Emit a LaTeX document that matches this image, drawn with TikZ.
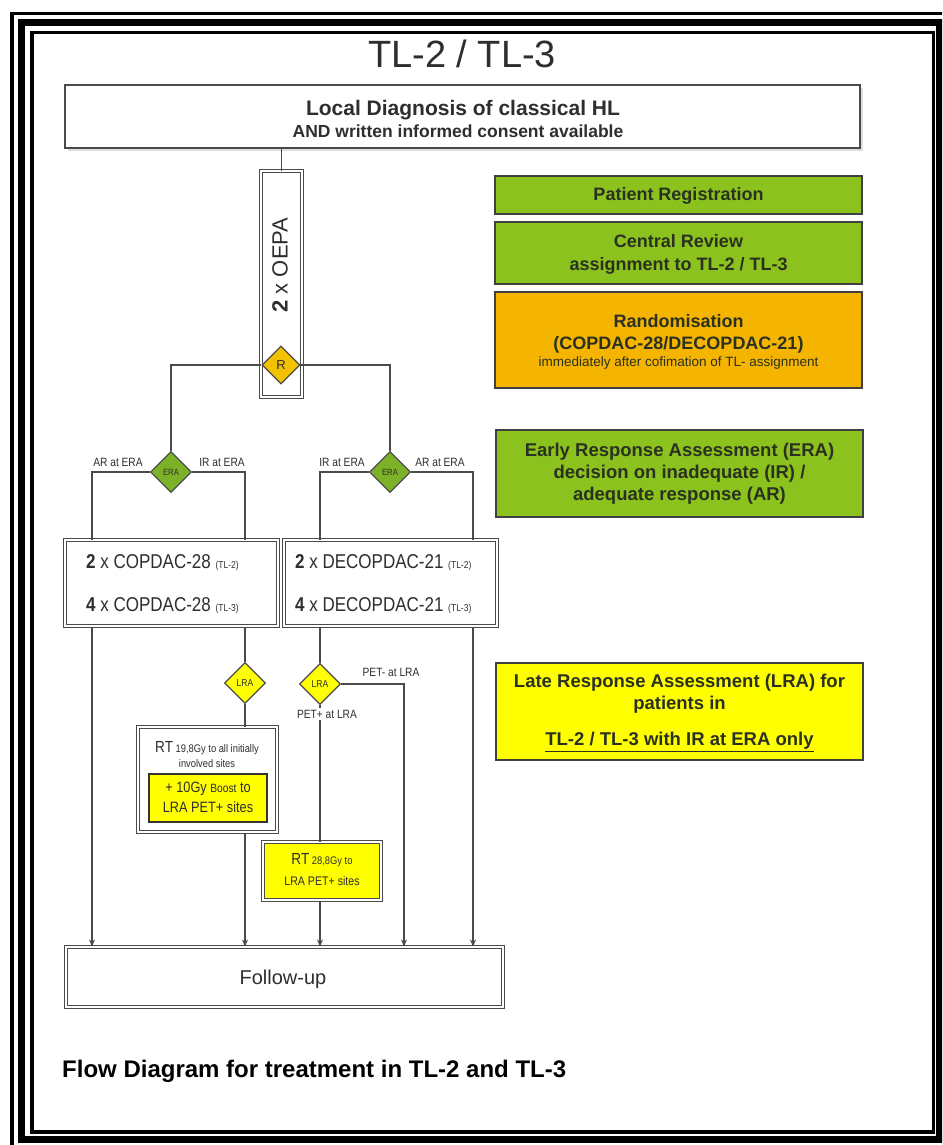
\documentclass[tikz,border=0pt]{standalone}
\usepackage{fontspec}
\setmainfont{Liberation Sans}
\newfontfamily\narrowfont[FakeStretch=0.85]{Liberation Sans}
\usetikzlibrary{shapes.geometric,arrows.meta,shadows}
\definecolor{lgreen}{HTML}{8CC21E}
\definecolor{dgreen}{HTML}{7DB228}
\definecolor{orng}{HTML}{F5B400}
\definecolor{gold}{HTML}{F2C200}
\definecolor{yel}{HTML}{FFFF00}
\definecolor{txt}{HTML}{2E2E2E}
\definecolor{edge}{HTML}{4A4A4A}
\definecolor{gtxt}{HTML}{2A3120}
\newcommand{\fsz}[1]{\fontsize{#1}{#1}\selectfont}
\begin{document}
\begin{tikzpicture}[x=1pt,y=-1pt,
  line/.style={draw=edge, line width=1.3pt},
  arr/.style={line, -{Stealth[length=7pt,width=6pt]}},
  dbox/.style={draw=edge, line width=1pt, double=white, double distance=2.2pt, fill=white, inner sep=0pt},
  cbox/.style={draw=black!75, line width=1.5pt, inner sep=0pt},
  ctext/.style={text=gtxt, font=\bfseries\fsz{18}, inner sep=0pt},
  dia/.style={diamond, draw=black!70, line width=1.2pt, minimum width=41pt, minimum height=41pt, inner sep=0pt, text=txt},
  lbl/.style={text=txt, font=\narrowfont\fsz{12}, inner sep=0pt},
  tx/.style={text=txt, inner sep=0pt}]
\useasboundingbox (0,0) rectangle (942,1145);
\clip (0,0) rectangle (942,1145);
\fill[white] (0,0) rectangle (942,1145);
% frame
\draw[line width=3.5pt] (12,13.5) rectangle (960,1160);
\draw[line width=7pt] (21.5,22.5) rectangle (939.5,1139.5);
\draw[line width=3.5pt] (32,32.5) rectangle (933.5,1132);
% title
\node[tx, font=\fsz{38}] (title) at (462,54) {TL-2 / TL-3};
% top box
\node[draw=edge, line width=1.5pt, fill=white, minimum width=795pt, minimum height=63pt,
  drop shadow={shadow xshift=3pt, shadow yshift=-3pt, opacity=0.25}] (diag) at (462.5,116.5) {};
\node[tx, font=\bfseries\fsz{21}] (diagA) at (463,110) {Local Diagnosis of classical HL};
\node[tx, font=\bfseries\fsz{17.5}] (diagB) at (458,131) {AND written informed consent available};
% OEPA
\node[dbox, minimum width=41pt, minimum height=226pt] (oepa) at (281.5,284) {};
\node[tx, rotate=90, font=\fsz{22}] (oepatxt) at (280,265) {\textbf{2} x OEPA};
\draw[line] (diag.south -| oepa) -- (oepa.north);
\node[dia, fill=gold, minimum width=38pt, minimum height=38pt, font=\fsz{13}] (R) at (281,365) {R};
% ERA diamonds
\node[dia, fill=dgreen, font=\narrowfont\fsz{9}] (eraL) at (171,472) {ERA};
\node[dia, fill=dgreen, font=\narrowfont\fsz{9}] (eraR) at (390,472) {ERA};
\draw[line] (R.west) -| (eraL.north);
\draw[line] (R.east) -| (eraR.north);
% coordinates of branches
\coordinate (xa) at (92,0);
\coordinate (xb) at (245,0);
\coordinate (xc) at (320,0);
\coordinate (xd) at (404,0);
\coordinate (xe) at (473,0);
% chemo boxes
\node[dbox, minimum width=213pt, minimum height=86pt] (copdac) at (171.5,583) {};
\node[dbox, minimum width=213pt, minimum height=86pt] (decopdac) at (390.5,583) {};
\node[tx, anchor=west, font=\narrowfont\fsz{20}] (c1) at (86,563) {\textbf{2} x COPDAC-28 {\fsz{10}(TL-2)}};
\node[tx, anchor=west, font=\narrowfont\fsz{20}] (c2) at (86,606) {\textbf{4} x COPDAC-28 {\fsz{10}(TL-3)}};
\node[tx, anchor=west, font=\narrowfont\fsz{20}] (d1) at (295,563) {\textbf{2} x DECOPDAC-21 {\fsz{10}(TL-2)}};
\node[tx, anchor=west, font=\narrowfont\fsz{20}] (d2) at (295,606) {\textbf{4} x DECOPDAC-21 {\fsz{10}(TL-3)}};
\draw[line] (eraL.west) -| (copdac.north -| xa);
\draw[line] (eraL.east) -| (copdac.north -| xb);
\draw[line] (eraR.west) -| (decopdac.north -| xc);
\draw[line] (eraR.east) -| (decopdac.north -| xe);
\node[lbl] (l1) at (118,462) {AR at ERA};
\node[lbl] (l2) at (222,462) {IR at ERA};
\node[lbl] (l3) at (342,462) {IR at ERA};
\node[lbl] (l4) at (440,462) {AR at ERA};
% follow-up
\node[dbox, minimum width=437pt, minimum height=60pt] (follow) at (284.5,977) {};
\node[tx, font=\fsz{20}] (followtxt) at (283,979) {Follow-up};
% LRA diamonds
\node[dia, fill=yel, font=\narrowfont\fsz{10}] (lraL) at (245,683) {LRA};
\node[dia, fill=yel, font=\narrowfont\fsz{10}] (lraR) at (320,684) {LRA};
% RT boxes
\node[dbox, minimum width=139pt, minimum height=105pt] (rt1) at (207.5,779.5) {};
\node[tx, font=\narrowfont\fsz{11}] (rt1a) at (207,748) {{\fsz{16}RT} 19,8Gy to all initially};
\node[tx, font=\narrowfont\fsz{11}] (rt1b) at (207,764) {involved sites};
\node[draw=black!80, line width=1.5pt, fill=yel, minimum width=118pt, minimum height=48pt] (boost) at (208,798) {};
\node[tx, font=\narrowfont\fsz{15}] (boosta) at (208,789) {+ 10Gy {\fsz{12}Boost} to};
\node[tx, font=\narrowfont\fsz{15}] (boostb) at (208,807) {LRA PET+ sites};
\node[dbox, fill=yel, minimum width=118pt, minimum height=58pt] (rt2) at (322,871) {};
\node[tx, font=\narrowfont\fsz{11}] (rt2a) at (322,860) {{\fsz{16}RT} 28,8Gy to};
\node[tx, font=\narrowfont\fsz{12.5}] (rt2b) at (322,881) {LRA PET+ sites};
% connectors lower
\draw[arr] (copdac.south -| xa) -- (follow.north -| xa);
\draw[line] (copdac.south -| xb) -- (lraL.north);
\draw[line] (lraL.south) -- (rt1.north -| xb);
\draw[arr] (rt1.south -| xb) -- (follow.north -| xb);
\draw[line] (decopdac.south -| xc) -- (lraR.north);
\draw[line] (lraR.south) -- (rt2.north -| xc);
\draw[arr] (rt2.south -| xc) -- (follow.north -| xc);
\draw[arr] (lraR.east) -| (follow.north -| xd);
\draw[arr] (decopdac.south -| xe) -- (follow.north -| xe);
\node[lbl] (pm) at (391,672) {PET- at LRA};
\node[lbl, fill=white, inner sep=2pt] (pp) at (327,714) {PET+ at LRA};
% right column
\node[cbox, fill=lgreen, minimum width=367pt, minimum height=38pt] (reg) at (678.5,195) {};
\node[ctext] (regt) at (678.5,196) {Patient Registration};
\node[cbox, fill=lgreen, minimum width=367pt, minimum height=62pt] (rev) at (678.5,253) {};
\node[ctext] (reva) at (678.5,241) {Central Review};
\node[ctext] (revb) at (678.5,266) {assignment to TL-2 / TL-3};
\node[cbox, fill=orng, minimum width=367pt, minimum height=96pt] (rand) at (678.5,340) {};
\node[ctext] (randa) at (678.5,321) {Randomisation};
\node[ctext] (randb) at (678.5,345) {(COPDAC-28/DECOPDAC-21)};
\node[tx, text=gtxt, font=\fsz{13.5}] (randc) at (678.5,363) {immediately after cofimation of TL- assignment};
\node[cbox, fill=lgreen, minimum width=367pt, minimum height=87pt] (era) at (679.5,473.5) {};
\node[ctext, font=\bfseries\fsz{18.5}] (eraa) at (679.5,452) {Early Response Assessment (ERA)};
\node[ctext, font=\bfseries\fsz{18.5}] (erab) at (679.5,474) {decision on inadequate (IR) /};
\node[ctext, font=\bfseries\fsz{18.5}] (erac) at (679.5,496) {adequate response (AR)};
\node[cbox, fill=yel, minimum width=367pt, minimum height=97pt] (lra) at (679.5,711.5) {};
\node[ctext, font=\bfseries\fsz{18.5}] (lraa) at (679.5,683) {Late Response Assessment (LRA) for};
\node[ctext, font=\bfseries\fsz{18.5}] (lrab) at (679.5,705) {patients in};
\node[ctext, font=\bfseries\fsz{18.5}] (lrac) at (679.5,742) {\underline{TL-2 / TL-3 with IR at ERA only}};
% caption
\node[tx, anchor=west, text=black, font=\bfseries\fsz{24}] (cap) at (62,1071) {Flow Diagram for treatment in TL-2 and TL-3};
\end{tikzpicture}
\end{document}
